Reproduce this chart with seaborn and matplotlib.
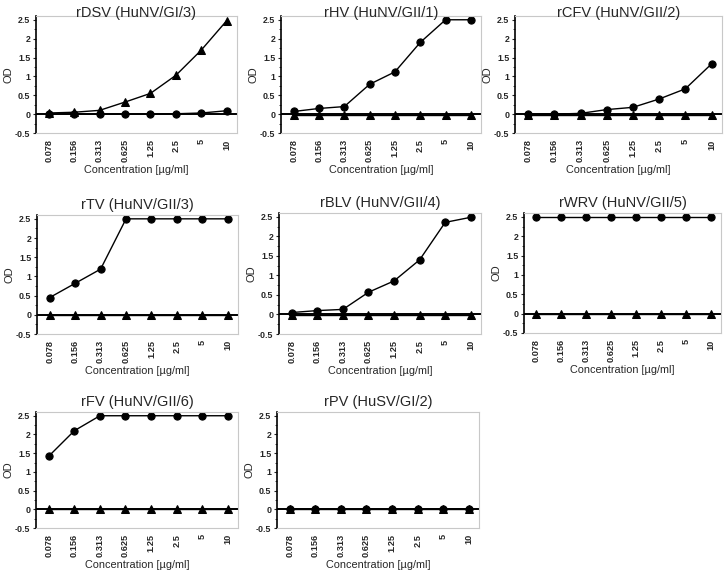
import pandas as pd
import numpy as np
import matplotlib
matplotlib.use("Agg")
import matplotlib.pyplot as plt
import seaborn as sns
from matplotlib.ticker import MultipleLocator, FuncFormatter

# -------------------------------------------------
# Datos
# -------------------------------------------------
concentraciones = ["0.078", "0.156", "0.313", "0.625", "1.25", "2.5", "5", "10"]

titulos = [
    "rDSV (HuNV/GI/3)", "rHV (HuNV/GII/1)", "rCFV (HuNV/GII/2)",
    "rTV (HuNV/GII/3)", "rBLV (HuNV/GII/4)", "rWRV (HuNV/GII/5)",
    "rFV (HuNV/GII/6)", "rPV (HuSV/GI/2)",
]

# serie de círculos
od_circulo = [
    [0.00, 0.00, 0.00, 0.00, 0.00, 0.01, 0.03, 0.09],
    [0.07, 0.15, 0.20, 0.79, 1.12, 1.90, 2.50, 2.50],
    [0.00, 0.00, 0.02, 0.12, 0.18, 0.40, 0.67, 1.33],
    [0.45, 0.82, 1.19, 2.50, 2.50, 2.50, 2.50, 2.50],
    [0.05, 0.10, 0.13, 0.57, 0.86, 1.40, 2.36, 2.49],
    [2.50, 2.50, 2.50, 2.50, 2.50, 2.50, 2.50, 2.50],
    [1.42, 2.10, 2.50, 2.50, 2.50, 2.50, 2.50, 2.50],
    [0.01, 0.01, 0.00, 0.00, 0.00, 0.00, 0.01, 0.01],
]

# serie de triángulos
od_triangulo = [
    [0.03, 0.05, 0.10, 0.32, 0.55, 1.03, 1.70, 2.48],
    [-0.02, -0.02, -0.02, -0.02, -0.02, -0.02, -0.02, -0.02],
    [-0.02, -0.02, -0.02, -0.02, -0.02, -0.02, -0.02, -0.02],
    [-0.01, -0.01, -0.01, -0.01, -0.01, -0.01, -0.01, -0.01],
    [-0.02, -0.02, -0.02, -0.02, -0.02, -0.02, -0.02, -0.02],
    [0.00, 0.00, 0.00, 0.00, 0.00, 0.00, 0.00, 0.00],
    [0.00, 0.00, 0.00, 0.00, 0.00, 0.00, 0.00, 0.00],
    [0.00, 0.00, 0.00, 0.00, 0.00, 0.00, 0.00, 0.00],
]

# -------------------------------------------------
# Tabla larga
# -------------------------------------------------
filas = []
for t, circ, tri in zip(titulos, od_circulo, od_triangulo):
    for c, v in zip(concentraciones, tri):
        filas.append({"panel": t, "conc": c, "serie": "tri", "od": v})
    for c, v in zip(concentraciones, circ):
        filas.append({"panel": t, "conc": c, "serie": "circ", "od": v})
df = pd.DataFrame(filas)

# -------------------------------------------------
# Figura
# -------------------------------------------------
sns.set_style("white")
plt.rcParams["font.family"] = ["Liberation Sans", "DejaVu Sans"]

W, H = 726, 570
fig = plt.figure(figsize=(W / 100, H / 100), dpi=100)

# rectángulos en píxeles: izquierda, arriba, derecha, abajo
rects = [
    (36, 16, 237, 133), (281, 16, 481, 133), (515, 16, 722, 133),
    (37, 215, 238, 334), (279, 213, 481, 334), (524, 213, 721, 333),
    (36, 412, 238, 528), (277, 412, 479, 528),
]

for i, (titulo, (l, t, r, b)) in enumerate(zip(titulos, rects)):
    ax = fig.add_axes([l / W, 1 - b / H, (r - l) / W, (b - t) / H])
    sub = df[df["panel"] == titulo]
    ax.axhline(0, color="black", lw=1.4, zorder=1)
    sns.pointplot(
        data=sub, x="conc", y="od", hue="serie", hue_order=["tri", "circ"],
        order=concentraciones, markers=["^", "o"], linestyles=["-", "-"],
        palette=["black", "black"], markersize=5.2, linewidth=1.0,
        errorbar=None, legend=False, ax=ax,
    )
    ax.set_xlim(-0.5, 7.4)
    ax.set_ylim(-0.5, 2.6)
    ax.yaxis.set_major_locator(MultipleLocator(0.5))
    ax.yaxis.set_minor_locator(MultipleLocator(0.25))
    ax.yaxis.set_major_formatter(FuncFormatter(lambda v, p: f"{v:g}"))
    ax.tick_params(axis="y", which="major", left=True, length=2.5, width=0.8,
                   labelsize=6.4, pad=1.5)
    ax.tick_params(axis="y", which="minor", left=True, length=1.2, width=0.6)
    ax.tick_params(axis="x", bottom=False, length=0, labelsize=6.6, pad=4.5)
    for lab in ax.get_xticklabels():
        lab.set_rotation(90)
        lab.set_fontweight("bold")
    for lab in ax.get_yticklabels():
        lab.set_fontweight("bold")
    for lado in ["top", "right", "bottom"]:
        ax.spines[lado].set_color("#c8c8c8")
        ax.spines[lado].set_linewidth(0.8)
    ax.spines["left"].set_color("black")
    ax.spines["left"].set_linewidth(1.2)
    ax.set_title(titulo, fontsize=10.5, pad=-1 if i < 3 else 4)
    ax.set_ylabel("OD", fontsize=8, labelpad=1)
    ax.set_xlabel("Concentration [\u00b5g/ml]", fontsize=7.8, labelpad=2)

fig.savefig("out.png", dpi=100)
